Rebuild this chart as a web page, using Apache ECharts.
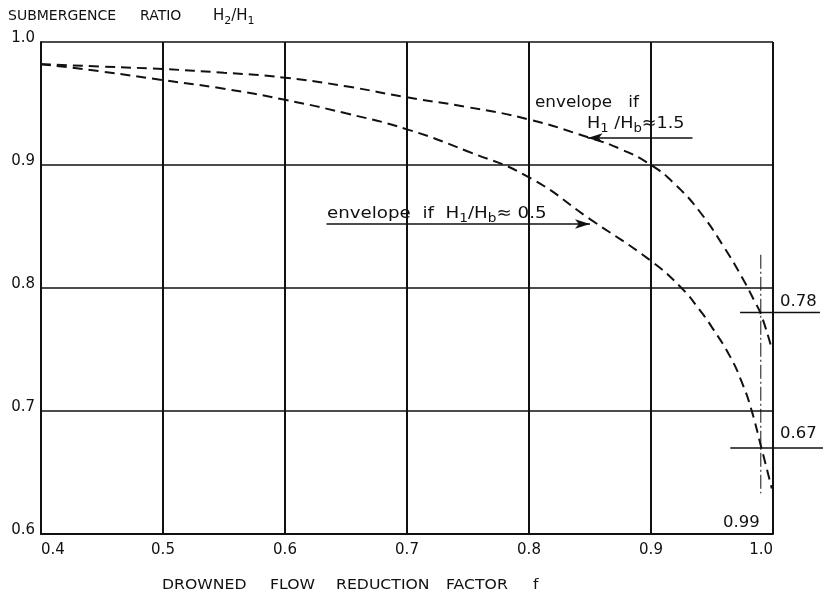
<!DOCTYPE html>
<html>
<head>
<meta charset="utf-8">
<script src="https://cdn.jsdelivr.net/npm/echarts@6/dist/echarts.min.js"></script>
<style>
  html, body { margin: 0; padding: 0; background: #fff; }
  #chart { width: 825px; height: 595px; }
</style>
</head>
<body>
<div id="chart"></div>
<script>
// envelope for H1/Hb ~ 1.5 (upper curve)
const upperF = [0.40, 0.45, 0.50, 0.55, 0.60, 0.65, 0.70, 0.75, 0.80, 0.85, 0.875, 0.90, 0.92, 0.94, 0.96, 0.975, 0.985, 0.99, 0.998];
const upperH = [0.982, 0.980, 0.978, 0.975, 0.971, 0.964, 0.955, 0.947, 0.937, 0.922, 0.913, 0.900, 0.884, 0.862, 0.833, 0.808, 0.789, 0.779, 0.754];

// envelope for H1/Hb ~ 0.5 (lower curve)
const lowerF = [0.40, 0.45, 0.50, 0.55, 0.60, 0.65, 0.70, 0.75, 0.80, 0.85, 0.90, 0.925, 0.94, 0.95, 0.965, 0.975, 0.982, 0.99, 0.999];
const lowerH = [0.982, 0.976, 0.969, 0.962, 0.953, 0.942, 0.929, 0.911, 0.890, 0.856, 0.822, 0.800, 0.782, 0.768, 0.744, 0.722, 0.702, 0.672, 0.637];

// reference f = 0.99 and the two read-off levels
const refF = 0.99;
const refSpan = [0.827, 0.633];
const refLevels = [0.78, 0.67];
const levelFrom = [0.973, 0.965];
const levelTo = [1.0385, 1.041];

// arrows [fromF, fromH, toF, toH]
const arrowUpper = [0.934, 0.922, 0.848, 0.922];
const arrowLower = [0.634, 0.852, 0.850, 0.852];

const xTicks = [0.4, 0.5, 0.6, 0.7, 0.8, 0.9, 1.0];
const yTicks = [0.6, 0.7, 0.8, 0.9, 1.0];

const FONT = '"DejaVu Sans", sans-serif';
const INK = '#111';
const zip = (a, b) => a.map((v, i) => [v, b[i]]);

const chart = echarts.init(document.getElementById('chart'), null, { renderer: 'canvas' });

function txt(x, y, text, size, sx, rich) {
  return {
    type: 'text', x: x, y: y, scaleX: sx, silent: true,
    style: {
      text: text, fill: INK, font: size + 'px ' + FONT,
      align: 'left', verticalAlign: 'middle', rich: rich
    }
  };
}

const subRich = (size) => ({
  n: { fontSize: size, fontFamily: FONT, lineHeight: 22, fill: INK },
  s: { fontSize: size - 4, fontFamily: FONT, lineHeight: size - 4, verticalAlign: 'bottom', fill: INK }
});

function arrowLine(a) {
  return [
    { coord: [a[0], a[1]], symbol: 'none' },
    { coord: [a[2], a[3]], symbol: 'arrow', symbolSize: [7, 15] }
  ];
}

const option = {
  animation: false,
  backgroundColor: '#fff',
  grid: { left: 41, right: 52, top: 42, bottom: 61 },
  xAxis: {
    type: 'value', min: xTicks[0], max: xTicks[xTicks.length - 1], interval: 0.1,
    axisLine: { lineStyle: { color: INK, width: 2 } },
    axisTick: { show: false },
    splitLine: { lineStyle: { color: INK, width: 2 } },
    axisLabel: {
      color: INK, fontSize: 15, fontFamily: FONT, margin: 9,
      alignMinLabel: 'left', alignMaxLabel: 'right',
      formatter: (v) => v.toFixed(1)
    }
  },
  yAxis: {
    type: 'value', min: yTicks[0], max: yTicks[yTicks.length - 1], interval: 0.1,
    axisLine: { lineStyle: { color: INK, width: 2 } },
    axisTick: { show: false },
    splitLine: { lineStyle: { color: INK, width: 1.5 } },
    axisLabel: {
      color: INK, fontSize: 15, fontFamily: FONT, margin: 6,
      verticalAlign: 'bottom', lineHeight: 8,
      formatter: (v) => v.toFixed(1)
    }
  },
  series: [
    {
      name: 'H1/Hb 1.5', type: 'line', data: zip(upperF, upperH),
      showSymbol: false, smooth: 0.5, silent: true,
      lineStyle: { color: INK, width: 2, type: [10, 6] }
    },
    {
      name: 'H1/Hb 0.5', type: 'line', data: zip(lowerF, lowerH),
      showSymbol: false, smooth: 0.5, silent: true,
      lineStyle: { color: INK, width: 2, type: [10, 6] }
    },
    {
      name: 'f 0.99', type: 'line', data: [[refF, refSpan[0]], [refF, refSpan[1]]],
      showSymbol: false, silent: true,
      lineStyle: { color: INK, width: 1, type: [14, 3, 2, 3] },
      markLine: {
        silent: true, animation: false,
        label: { show: false },
        lineStyle: { color: INK, width: 1.5, type: 'solid' },
        data: [arrowLine(arrowUpper), arrowLine(arrowLower)]
      }
    }
  ],
  graphic: [
    txt(8, 16, 'SUBMERGENCE', 14, 1),
    txt(140, 16, 'RATIO', 14, 1),
    txt(213, 16, '{n|H}{s|2}{n|/H}{s|1}', 14, 1, subRich(15)),
    txt(162, 585, 'DROWNED', 14, 1.12),
    txt(270, 585, 'FLOW', 14, 1.12),
    txt(336, 585, 'REDUCTION', 14, 1.12),
    txt(446, 585, 'FACTOR', 14, 1.12),
    txt(533, 585, 'f', 14, 1.12),
    txt(535, 103, 'envelope   if', 15, 1.12),
    txt(587, 124, '{n|H}{s|1}{n| /H}{s|b}{n|\u22481.5}', 15, 1.1, subRich(16)),
    txt(327, 214, '{n|envelope  if  H}{s|1}{n|/H}{s|b}{n|\u2248 0.5}', 15, 1.14, subRich(16)),
    txt(780, 302, '0.78', 15, 1.1),
    txt(780, 434, '0.67', 15, 1.1),
    txt(723, 523, '0.99', 15, 1.1)
  ]
};

chart.setOption(option);

// short read-off lines at 0.78 / 0.67 run past the right border, so they are
// placed through the grid's own scale rather than clipped as a series
const levelLines = refLevels.map((lv, i) => {
  const p0 = chart.convertToPixel({ gridIndex: 0 }, [levelFrom[i], lv]);
  const p1 = chart.convertToPixel({ gridIndex: 0 }, [levelTo[i], lv]);
  return {
    type: 'line', silent: true, z: 10,
    shape: { x1: p0[0], y1: p0[1], x2: p1[0], y2: p1[1] },
    style: { stroke: INK, lineWidth: 1.5 }
  };
});
chart.setOption({ graphic: option.graphic.concat(levelLines) });
</script>
</body>
</html>
